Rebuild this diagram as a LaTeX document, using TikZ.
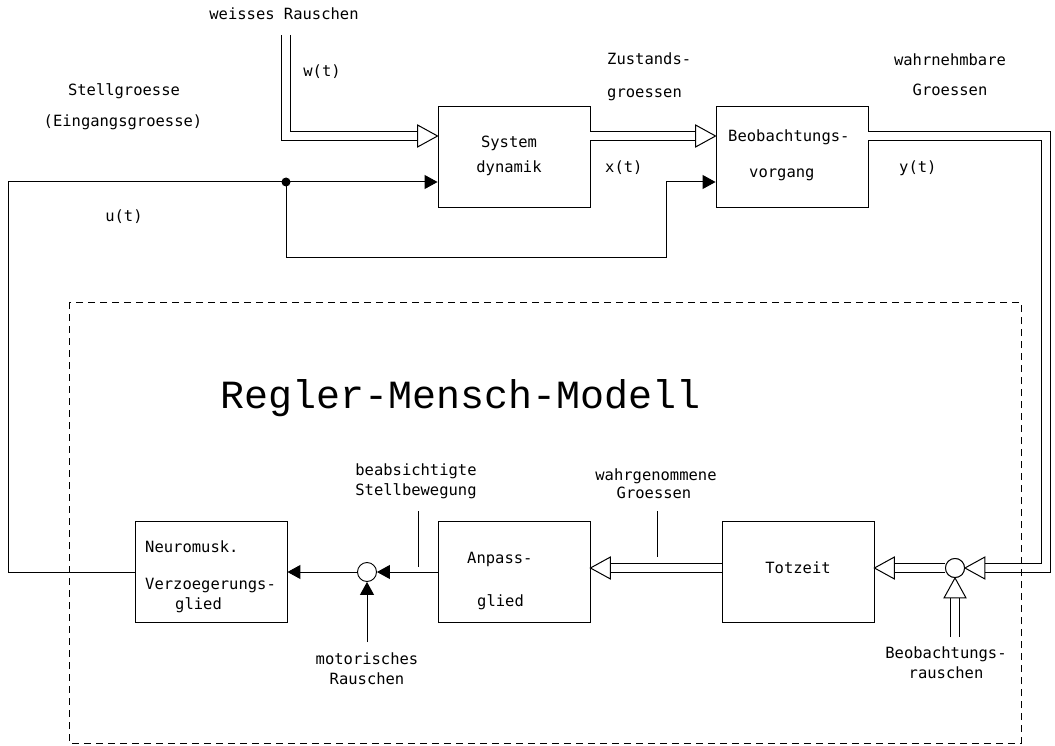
\documentclass[tikz,border=0pt]{standalone}
\usepackage{fontspec}
\setmainfont{DejaVu Sans Mono}
\newfontfamily\titelfont{Liberation Mono}
\usetikzlibrary{arrows.meta,calc}

\begin{document}
\begin{tikzpicture}[x=1pt,y=-1pt,
  block/.style={draw, line width=0.9pt, minimum width=152pt, minimum height=101pt, inner sep=0pt},
  txt/.style={font=\fontsize{15.5}{17}\selectfont, inner sep=0pt, anchor=base},
  ltxt/.style={txt, anchor=base west},
  pfeil/.style={line width=1pt, -{Triangle[length=13pt,width=14pt]}},
  doppel/.style={line width=10.4pt, shorten >=19pt,
    postaction={draw, white, line width=8pt, shorten >=19pt}},
  summe/.style={draw, circle, line width=0.9pt, minimum size=19pt, inner sep=0pt},
  hohl/.pic={\draw[line width=1pt, fill=white] (0,0) -- (-20,-11) -- (-20,11) -- cycle;}]
\useasboundingbox (0,0) rectangle (1055,746);

% Bloecke
\node[block] (sysdyn) at (514,157) {};
\node[block] (beob) at (792,157) {};
\node[block] (totzeit) at (798,572) {};
\node[block] (anpass) at (514,572) {};
\node[block] (neuro) at (211,572) {};
\node[summe] (sumB) at (955,568) {};
\node[summe] (sumM) at (367,572) {};

% Eingang / Strecke
\coordinate (wq) at (286,35);
\draw[doppel] (wq) |- ([yshift=21pt]sysdyn.west);
\pic at ([yshift=21pt]sysdyn.west) {hohl};
\draw[doppel] ([yshift=21pt]sysdyn.east) -- ([yshift=21pt]beob.west);
\pic at ([yshift=21pt]beob.west) {hohl};
\coordinate (punkt) at (286,182);
\fill (punkt) circle (4.5);
\draw[pfeil] (punkt) -- ([yshift=-25pt]sysdyn.west);
\draw[pfeil] (punkt) |- (666,258) |- ([yshift=-25pt]beob.west);
\draw[line width=1pt] (neuro.west) -| (8,182) -- (punkt);

% Rueckfuehrung y(t)
\draw[doppel] ([yshift=21pt]beob.east) -| (1046,568) -- (sumB.east);
\pic[rotate=180] at (sumB.east) {hohl};
\draw[doppel] (sumB.west) -- (sumB.west -| totzeit.east);
\pic[rotate=180] at (sumB.west -| totzeit.east) {hohl};
\draw[doppel] ([yshift=4pt]totzeit.west) -- ([yshift=4pt]anpass.east);
\pic[rotate=180] at ([yshift=4pt]anpass.east) {hohl};
\coordinate (br) at (955,637);
\draw[doppel] (br) -- (sumB.south);
\pic[rotate=90] at (sumB.south) {hohl};
\node[summe, fill=white] at (sumB) {};

% Mensch
\draw[pfeil] (anpass.west) -- (sumM.east);
\draw[pfeil] (sumM.west) -- (neuro.east);
\coordinate (mr) at (367,642);
\draw[pfeil] (mr) -- (sumM.south);

% Zeiger
\coordinate (zs1) at (418,511);
\coordinate (zs2) at (418,567);
\draw[line width=0.8pt] (zs1) -- (zs2);
\coordinate (zw1) at (657,511);
\coordinate (zw2) at (657,557);
\draw[line width=0.8pt] (zw1) -- (zw2);

% Modellrahmen
\draw[line width=1pt, dash pattern=on 7pt off 5pt] (69,302) rectangle (1021,743);
\node[inner sep=0pt, anchor=base, font=\titelfont\fontsize{40}{40}\selectfont] (titel) at (461,408) {Regler-Mensch-Modell};

% Beschriftung
\node[txt] (lw) at (284,20) {weisses Rauschen};
\node[txt] (lwt) at (322,77) {w(t)};
\node[ltxt] (lz1) at (607,65) {Zustands-};
\node[ltxt] (lz2) at (607,98) {groessen};
\node[ltxt] (lx) at (605,173) {x(t)};
\node[txt] (lg1) at (950,66) {wahrnehmbare};
\node[txt] (lg2) at (950,96) {Groessen};
\node[ltxt] (ly) at (899,173) {y(t)};
\node[txt] (ls1) at (124,96) {Stellgroesse};
\node[txt] (ls2) at (123,127) {(Eingangsgroesse)};
\node[txt] (lu) at (124,222) {u(t)};
\node[txt] (ts1) at (509,148) {System};
\node[txt] (ts2) at (509,173) {dynamik};
\node[ltxt] (tb1) at (728,142) {Beobachtungs-};
\node[ltxt] (tb2) at (749,178) {vorgang};
\node[ltxt] (tn1) at (145,552) {Neuromusk.};
\node[ltxt] (tn2) at (145,589) {Verzoegerungs-};
\node[ltxt] (tn3) at (175,609) {glied};
\node[ltxt] (ta1) at (467,563) {Anpass-};
\node[ltxt] (ta2) at (477,606) {glied};
\node[txt] (tt) at (798,573) {Totzeit};
\node[txt] (lb1) at (416,475) {beabsichtigte};
\node[txt] (lb2) at (416,495) {Stellbewegung};
\node[txt] (lp1) at (656,480) {wahrgenommene};
\node[txt] (lp2) at (654,498) {Groessen};
\node[txt] (lr1) at (946,658) {Beobachtungs-};
\node[txt] (lr2) at (946,678) {rauschen};
\node[txt] (lm1) at (367,664) {motorisches};
\node[txt] (lm2) at (367,684) {Rauschen};
\end{tikzpicture}
\end{document}
